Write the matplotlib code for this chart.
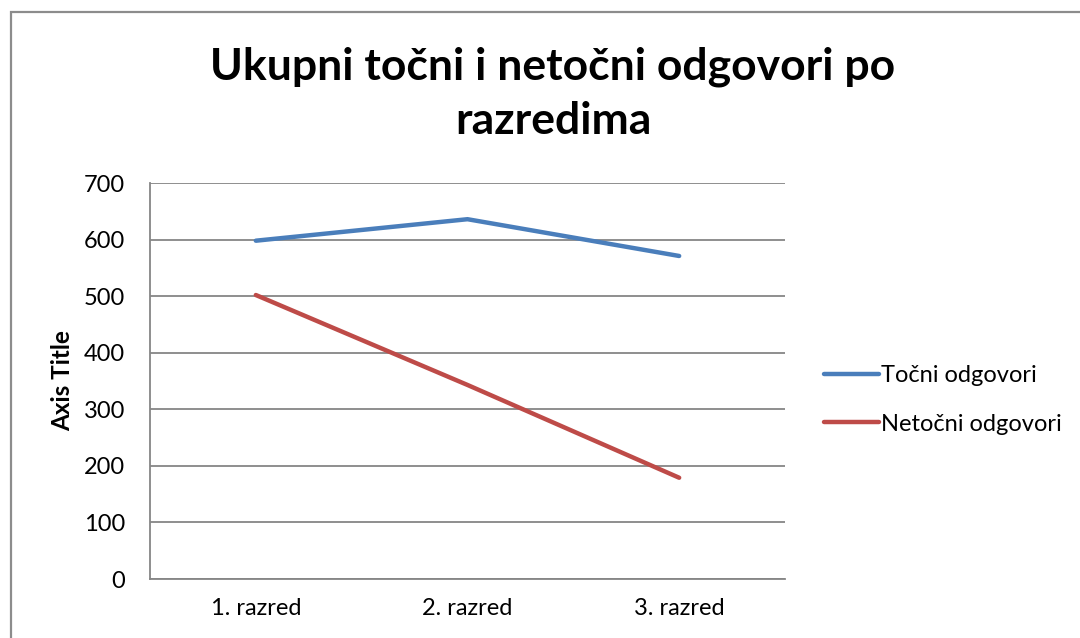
import matplotlib
matplotlib.use("Agg")
import matplotlib.pyplot as plt
from matplotlib.patches import Rectangle

plt.rcParams['font.family'] = ['Lato', 'DejaVu Sans']

# data
categories = ['1. razred', '2. razred', '3. razred']
tocni = [598, 636, 571]
netocni = [502, 343, 179]
series_names = ['Točni odgovori', 'Netočni odgovori']
yticks = [0, 100, 200, 300, 400, 500, 600, 700]

grid_col = '#868686'

fig = plt.figure(figsize=(10.8, 6.38), dpi=100)

# chart frame (runs off the right and bottom edge like the screenshot)
fig.patches.append(Rectangle((11 / 1080, -0.05), 1.2, 1 - 12 / 638 + 0.05,
                             transform=fig.transFigure, fill=False,
                             edgecolor='#8c8c8c', linewidth=1.6))

ax = fig.add_axes([150 / 1080, 1 - 579 / 638, 635 / 1080, 396 / 638])
x = list(range(len(categories)))
l1, = ax.plot(x, tocni, color='#4A7EBB', linewidth=3.2, solid_capstyle='round')
l2, = ax.plot(x, netocni, color='#BE4B48', linewidth=3.2, solid_capstyle='round')

ax.set_xlim(-0.5, len(categories) - 0.5)
ax.set_ylim(0, 700)
ax.set_yticks(yticks)
ax.set_xticks(x)
ax.set_xticklabels(categories)
ax.yaxis.grid(True, color=grid_col, linewidth=1.3)
ax.set_axisbelow(True)
for side in ['top', 'right']:
    ax.spines[side].set_visible(False)
for side in ['left', 'bottom']:
    ax.spines[side].set_color(grid_col)
    ax.spines[side].set_linewidth(1.3)
ax.tick_params(axis='y', length=0, labelsize=17, pad=18)
ax.tick_params(axis='x', length=0, labelsize=17, pad=14)
ax.set_ylabel('Axis Title', fontsize=17.5, fontweight='bold', labelpad=7)

fig.text(553 / 1080, 1 - 94 / 638, 'Ukupni točni i netočni odgovori po\nrazredima',
         ha='center', va='center', fontsize=32, fontweight='bold',
         linespacing=1.42)

fig.legend([l1, l2], series_names, loc='center left',
           bbox_to_anchor=(803 / 1080, 1 - 400 / 638), frameon=False,
           fontsize=17, handlelength=2.3, handletextpad=0.1, labelspacing=1.15)

fig.savefig('out.png', dpi=100)
